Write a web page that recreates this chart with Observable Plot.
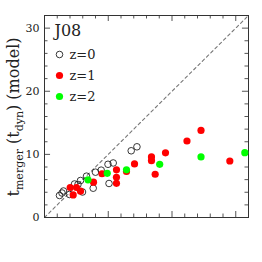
<!DOCTYPE html>
<html><head><meta charset="utf-8">
<script src="https://cdn.jsdelivr.net/npm/d3@7"></script>
<script src="https://cdn.jsdelivr.net/npm/@observablehq/plot@0.6"></script>
<style>body{margin:0;background:#fff}</style>
</head><body><div id="chart"></div>
<script>
// z = 0 (open circles)
const z0x = [2.35, 2.75, 2.98, 3.92, 4.71, 5.25, 5.65, 5.96, 6.59, 7.64, 8.0, 8.89, 9.96, 10.12, 10.78, 13.6, 14.5];
const z0y = [3.49, 3.88, 4.2, 3.65, 5.31, 5.23, 5.86, 4.04, 6.55, 4.64, 7.18, 7.5, 8.43, 5.39, 8.64, 10.57, 11.2];
// z = 1 (red)
const z1x = [4.03, 5.02, 4.5, 5.65, 7.69, 9.02, 11.29, 11.29, 11.29, 12.86, 14.12, 16.78, 16.78, 17.36, 18.98, 22.35, 24.55, 29.07];
const z1y = [4.75, 4.75, 3.57, 4.17, 5.59, 6.93, 7.56, 6.37, 5.42, 7.29, 8.48, 9.59, 9.0, 6.85, 10.25, 12.12, 13.79, 8.95];
// z = 2 (green)
const z2x = [6.82, 9.84, 12.86, 18.07, 24.55, 31.42];
const z2y = [5.97, 7.0, 7.56, 8.43, 9.6, 10.27];

const legendLabels = ["z=0", "z=1", "z=2"];
const panelLabel = "J08";
const majorTicks = [0, 10, 20, 30];
const minorTicks = [2, 4, 6, 8, 12, 14, 16, 18, 22, 24, 26, 28];
const diag = [0, 32];

const toRows = (xs, ys) => xs.map((x, i) => ({x, y: ys[i]}));
const d0 = toRows(z0x, z0y), d1 = toRows(z1x, z1y), d2 = toRows(z2x, z2y);

const RED = "#ff0000", GREEN = "#00ff00", TICK = "#555";
const font = "DejaVu Serif";
const majLen = 0.95, minLen = 0.55, XMAX = 32, YMAX = 32;

const legendStyles = [
  {fill: "none", stroke: "#222", r: 3.3, strokeWidth: 0.9},
  {fill: RED, stroke: "none", r: 3.6},
  {fill: GREEN, stroke: "none", r: 3.6}
];

const marks = [
  // ticks (inward) on all four sides
  Plot.ruleY(majorTicks, {y: d => d, x1: 0, x2: majLen, stroke: TICK, strokeWidth: 1}),
  Plot.ruleY(minorTicks, {y: d => d, x1: 0, x2: minLen, stroke: TICK, strokeWidth: 1}),
  Plot.ruleY(majorTicks, {y: d => d, x1: XMAX - majLen, x2: XMAX, stroke: TICK, strokeWidth: 1}),
  Plot.ruleY(minorTicks, {y: d => d, x1: XMAX - minLen, x2: XMAX, stroke: TICK, strokeWidth: 1}),
  Plot.ruleX(majorTicks, {x: d => d, y1: 0, y2: majLen, stroke: TICK, strokeWidth: 1}),
  Plot.ruleX(minorTicks, {x: d => d, y1: 0, y2: minLen, stroke: TICK, strokeWidth: 1}),
  Plot.ruleX(majorTicks, {x: d => d, y1: YMAX - majLen, y2: YMAX, stroke: TICK, strokeWidth: 1}),
  Plot.ruleX(minorTicks, {x: d => d, y1: YMAX - minLen, y2: YMAX, stroke: TICK, strokeWidth: 1}),
  Plot.line(diag, {x: d => d, y: d => d, stroke: "#777", strokeWidth: 1.1, strokeDasharray: "3,3"}),
  Plot.frame({stroke: "#333", strokeWidth: 1}),
  Plot.axisY(majorTicks, {tickSize: 0, tickPadding: 5, fontSize: 11, fontFamily: font, fill: "#222", label: null}),
  Plot.dot(d0, {x: "x", y: "y", ...legendStyles[0]}),
  Plot.dot(d1, {x: "x", y: "y", ...legendStyles[1]}),
  Plot.dot(d2, {x: "x", y: "y", ...legendStyles[2]}),
  Plot.text([panelLabel], {frameAnchor: "top-left", dx: 10, dy: 15, text: d => d, textAnchor: "start", lineAnchor: "middle", fontSize: 16, fontFamily: font, fill: "#222"})
];
legendLabels.forEach((lab, i) => {
  marks.push(Plot.dot([lab], {frameAnchor: "top-left", dx: 15, dy: 39 + 21 * i, ...legendStyles[i]}));
  marks.push(Plot.text([lab], {frameAnchor: "top-left", dx: 25, dy: 39 + 21 * i, text: d => d, textAnchor: "start", lineAnchor: "middle", fontSize: 13, fontFamily: font, fill: "#222"}));
});

const chart = Plot.plot({
  width: 262, height: 262,
  marginLeft: 44, marginRight: 14, marginTop: 15, marginBottom: 45,
  x: {domain: [0, XMAX], axis: null},
  y: {domain: [0, YMAX], axis: null},
  style: {background: "#fff", fontFamily: font},
  marks
});
document.getElementById("chart").appendChild(chart);

// rotated y-axis title with subscripts
const svg = d3.select(chart);
const t = svg.append("text")
  .attr("transform", "translate(19,117) rotate(-90)")
  .attr("text-anchor", "middle")
  .attr("font-family", font)
  .attr("font-size", 16)
  .attr("fill", "#222");
t.append("tspan").text("t");
t.append("tspan").attr("dy", 4).attr("font-size", 11).text("merger");
t.append("tspan").attr("dy", -4).text(" (t");
t.append("tspan").attr("dy", 4).attr("font-size", 11).text("dyn");
t.append("tspan").attr("dy", -4).text(") (model)");
</script>
</body></html>
